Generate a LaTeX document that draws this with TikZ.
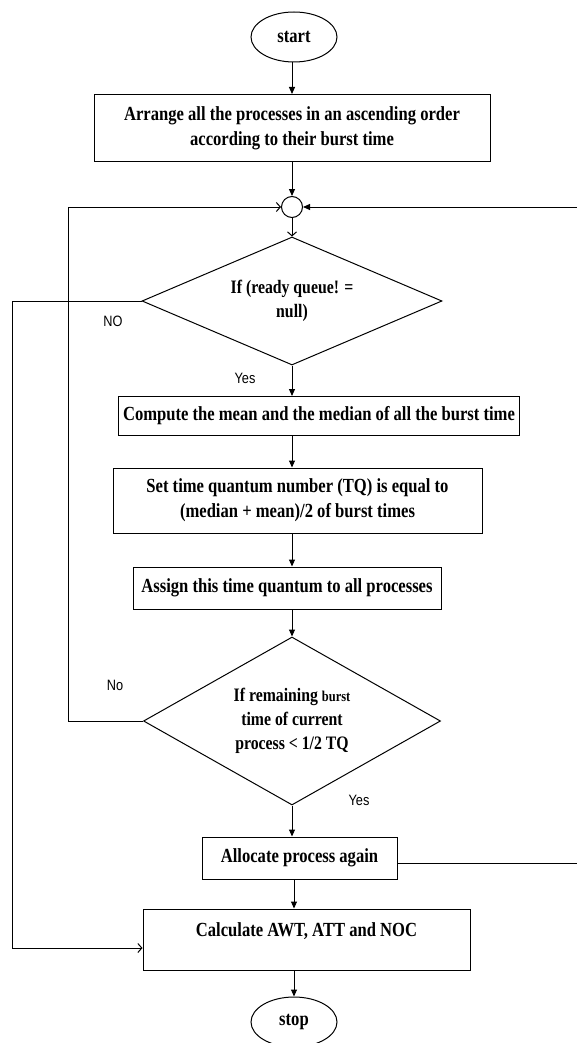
\documentclass[tikz,border=0pt]{standalone}
\usepackage{fontspec}
\setmainfont{Liberation Serif}[FakeStretch=0.83]
\newfontfamily\tagfont{Liberation Sans}[FakeStretch=0.85]
\usetikzlibrary{arrows.meta,shapes.geometric}

\begin{document}
\begin{tikzpicture}[x=1pt,y=-1pt,line width=1pt,
  box/.style={draw, rectangle, align=center, inner sep=0pt, font=\fontsize{20}{25}\selectfont\bfseries},
  decision/.style={draw, diamond, align=center, inner sep=0pt, font=\fontsize{19}{24}\selectfont\bfseries},
  term/.style={draw, ellipse, minimum width=86, minimum height=50, inner sep=0pt, font=\fontsize{20}{22}\selectfont\bfseries},
  tag/.style={font=\tagfont\fontsize{15}{17}\selectfont},
  flow/.style={-{Triangle[length=7pt,width=6pt]}},
  openflow/.style={-{Straight Barb[length=4pt,width=9pt]}}]
\useasboundingbox (0,0) rectangle (577,1043);
\node[term] (start) at (294,37) {start};
\node[box, minimum width=396, minimum height=67] (arrange) at (292,128) {Arrange all the processes in an ascending order\\according to their burst time};
\node[draw, circle, minimum size=21, inner sep=0pt] (join) at (292,207) {};
\node[decision, aspect=2.34, minimum width=300, minimum height=128] (queue) at (292,301) {If (ready queue! =\\null)};
\node[box, minimum width=401, minimum height=39] (mean) at (319,416) {Compute the mean and the median of all the burst time};
\node[box, minimum width=369, minimum height=65] (tq) at (297.5,500.5) {Set time quantum number (TQ) is equal to\\(median + mean)/2 of burst times};
\node[box, minimum width=308, minimum height=42] (assign) at (287,588) {Assign this time quantum to all processes};
\node[decision, aspect=1.77, minimum width=297, minimum height=168] (remain) at (292,721) {If remaining {\fontsize{15}{24}\selectfont burst}\\time of current\\process < 1/2 TQ};
\node[box, minimum width=195, minimum height=42] (alloc) at (299.5,858) {Allocate process again};
\node[box, minimum width=327, minimum height=61, text height=10pt, text depth=16pt] (calc) at (306.5,939.5) {Calculate AWT, ATT and NOC};
\node[term] (stop) at (294,1022) {stop};
\node[tag] (no1) at (113,321) {NO};
\node[tag] (yes1) at (245,378) {Yes};
\node[tag] (no2) at (115,685) {No};
\node[tag] (yes2) at (359,800) {Yes};
\coordinate (rtop) at (577,207);
\coordinate (rbot) at (577,863);
% main column
\draw[flow] (start.south -| arrange) -- (arrange.north);
\draw[flow] (arrange.south) -- (join.north);
\draw[openflow] (join.south) -- (queue.north);
\draw[flow] (queue.south) -- (queue.south |- mean.north);
\draw[flow] (queue.south |- mean.south) -- (queue.south |- tq.north);
\draw[flow] (queue.south |- tq.south) -- (queue.south |- assign.north);
\draw[flow] (queue.south |- assign.south) -- (remain.north);
\draw[flow] (remain.south) -- (remain.south |- alloc.north);
\draw[flow] (stop |- alloc.south) -- (stop |- calc.north);
\draw[flow] (stop |- calc.south) -- (stop.north);
% loops
\draw[openflow] (remain.west) -- ++(-75,0) |- (join.west);
\draw[openflow] (queue.west) -- ++(-129,0) |- ([yshift=-8.5pt]calc.west);
\draw[flow] (rtop) -- (join.east);
\draw (alloc.east |- rbot) -- (rbot);
\end{tikzpicture}
\end{document}
